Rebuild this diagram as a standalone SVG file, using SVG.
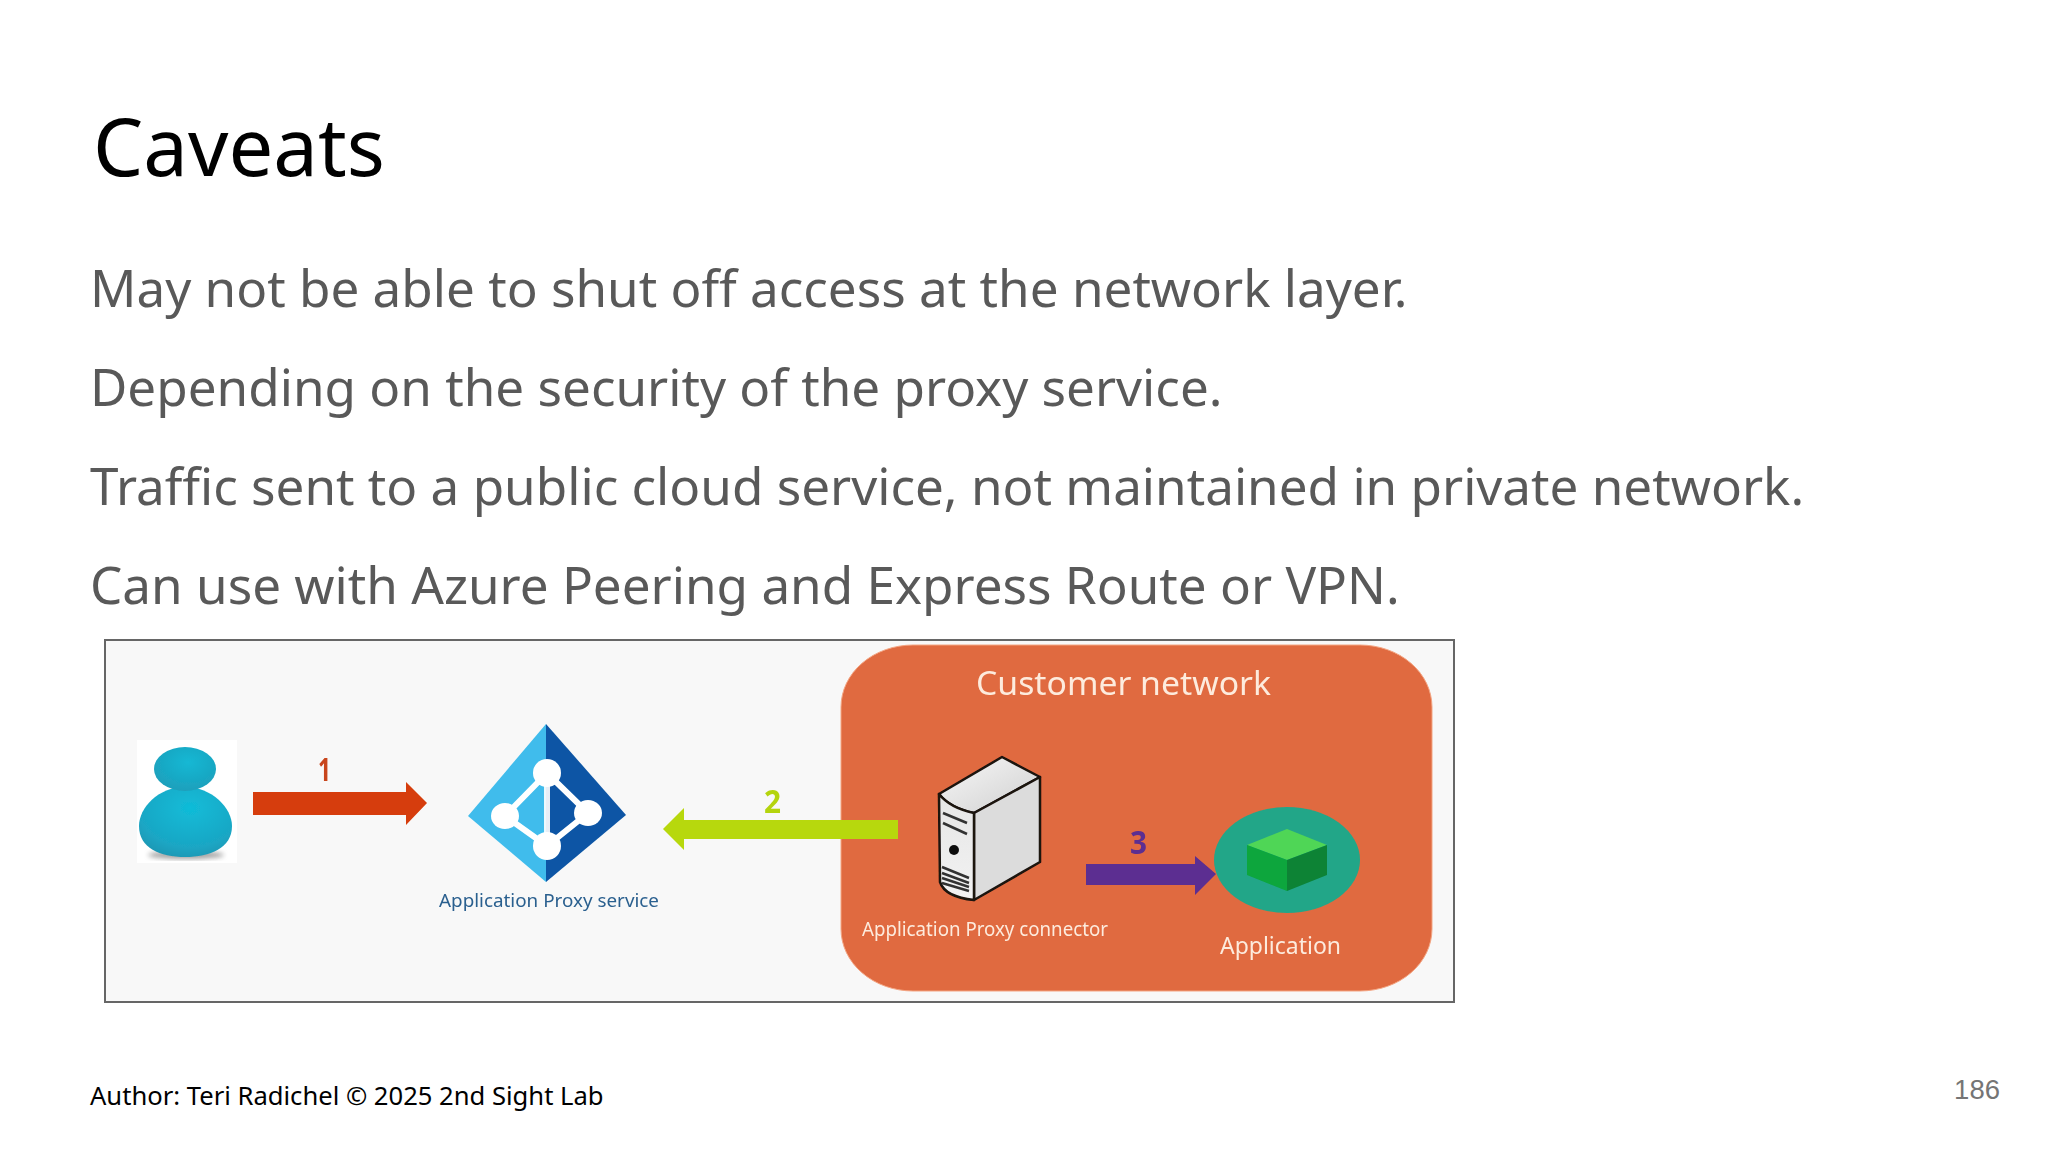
<svg xmlns="http://www.w3.org/2000/svg" width="2048" height="1152" viewBox="0 0 2048 1152">
<style>
text{font-family:"Noto Sans","Open Sans",sans-serif}
.body{font-size:51.2px;fill:#595959}
.inner{fill:#fdebdd}
.num{font-weight:700;font-size:33px}
.srv{stroke:#1a1210;stroke-width:2.5;stroke-linejoin:round}
.soft{filter:url(#soft)}
</style>
<defs>
<filter id="soft" x="-5%" y="-5%" width="110%" height="110%"><feGaussianBlur stdDeviation="0.7"/></filter>
<filter id="softer" x="-20%" y="-20%" width="140%" height="140%"><feGaussianBlur stdDeviation="2.5"/></filter>
<radialGradient id="p" cx=".55" cy=".3" r=".8"><stop offset="0" stop-color="#10bcd8"/><stop offset=".7" stop-color="#1aa6c4"/><stop offset="1" stop-color="#1f92ae"/></radialGradient>
<radialGradient id="h" cx=".55" cy=".35" r=".75"><stop offset="0" stop-color="#12b8d4"/><stop offset="1" stop-color="#1e9cb8"/></radialGradient>
<linearGradient id="t" x1="0" y1="0" x2="1" y2="1"><stop offset="0" stop-color="#f8f8f8"/><stop offset="1" stop-color="#cfcfcf"/></linearGradient>
<linearGradient id="f" x1="0" y1="0" x2="0" y2="1"><stop offset="0" stop-color="#e6e6e6"/><stop offset="1" stop-color="#f2f2f2"/></linearGradient>
</defs>
<rect width="2048" height="1152" fill="#fff"/>
<text id="title" x="93" y="175.5" font-size="79.6" fill="#000">Caveats</text>
<g id="bullets">
<text class="body" x="90" y="306.5">May not be able to shut off access at the network layer.</text>
<text class="body" x="90" y="405.5">Depending on the security of the proxy service.</text>
<text class="body" x="90" y="504.5">Traffic sent to a public cloud service, not maintained in private network.</text>
<text class="body" x="90" y="603.5">Can use with Azure Peering and Express Route or VPN.</text>
</g>
<rect id="frame" x="105" y="640" width="1349" height="362" fill="#f8f8f8" stroke="#666" stroke-width="2"/>
<g id="customer-network" class="soft">
<rect x="841" y="645" width="591" height="346" rx="72" ry="62" fill="#e06a3f" stroke="#f3a583" stroke-width="1"/>
<text class="inner" x="976" y="694.5" font-size="33" textLength="295" lengthAdjust="spacingAndGlyphs">Customer network</text>
</g>
<g id="user">
<rect x="137" y="740" width="100" height="123" fill="#fff" class="soft"/>
<ellipse cx="186" cy="855" rx="38" ry="4" fill="#777" opacity=".7" filter="url(#softer)"/>
<g class="soft">
<path d="M185 787C158 787 139 808 139 826C139 848 160 857 185 857C210 857 232 848 232 826C232 808 212 787 185 787Z" fill="url(#p)"/>
<ellipse cx="185" cy="769" rx="31" ry="22" fill="url(#h)"/>
</g>
</g>
<g id="proxy-service" class="soft">
<path d="M546 724L468 816L546 882Z" fill="#3fbcec"/>
<path d="M546 724L626 815L546 882Z" fill="#0a55a5"/>
<path d="M547 773L505 816L547 846L588 813Z" fill="none" stroke="#fff" stroke-width="6"/>
<path d="M547 773V846" fill="none" stroke="#fff" stroke-width="6" opacity=".9"/>
<ellipse cx="547" cy="773" rx="14" ry="14" fill="#fff"/>
<ellipse cx="505" cy="816" rx="14" ry="13" fill="#fff"/>
<ellipse cx="588" cy="813" rx="14" ry="13" fill="#fff"/>
<ellipse cx="547" cy="846" rx="14" ry="14" fill="#fff"/>
<text x="439" y="907" font-size="17.5" fill="#2b608f" textLength="220" lengthAdjust="spacingAndGlyphs">Application Proxy service</text>
</g>
<g id="connector" class="soft">
<path class="srv" d="M939 794L1002 757L1040 777L974 813Q950 808 939 794Z" fill="url(#t)"/>
<path class="srv" d="M974 813L1040 777V862L974 900Z" fill="#dcdcdc"/>
<path class="srv" d="M939 794Q950 808 974 813V900Q945 897 940 882Z" fill="url(#f)"/>
<path d="M943 813L967 823M943 823L967 834M942 867L969 878M942 873L969 883M942 878L969 887M942 883L969 891" stroke="#333" stroke-width="2.5" fill="none"/>
<ellipse cx="954" cy="850" rx="5" ry="5" fill="#111"/>
<text class="inner" x="862" y="936" font-size="19.5" textLength="246" lengthAdjust="spacingAndGlyphs">Application Proxy connector</text>
</g>
<g id="application" class="soft">
<ellipse cx="1287" cy="860" rx="73" ry="53" fill="#23a688"/>
<path d="M1287 829L1327 845L1287 860L1247 845Z" fill="#4fd656"/>
<path d="M1247 845L1287 860V891L1247 875Z" fill="#0ca63c"/>
<path d="M1327 845L1287 860V891L1327 875Z" fill="#0a8336"/>
<text class="inner" x="1220" y="954" font-size="24" textLength="121" lengthAdjust="spacingAndGlyphs">Application</text>
</g>
<g id="connectors" class="soft">
<path d="M253 792H406V782L427 803L406 825V815H253Z" fill="#d63c08"/>
<path d="M663 829L684 808V820H898V839H684V850Z" fill="#b7d80c"/>
<path d="M1086 864H1195V856L1216 874L1195 895V885H1086Z" fill="#5b2d91"/>
<text class="num" x="318" y="781" fill="#c8441c" textLength="13" lengthAdjust="spacingAndGlyphs">1</text>
<text class="num" x="764" y="813" fill="#b4d40e" textLength="17" lengthAdjust="spacingAndGlyphs">2</text>
<text class="num" x="1130" y="854" fill="#5b2d91" textLength="17" lengthAdjust="spacingAndGlyphs">3</text>
</g>
<text id="footer" x="90" y="1104.5" font-size="25.6" fill="#000">Author: Teri Radichel © 2025 2nd Sight Lab</text>
<text id="page" x="2000" y="1099" font-size="27.5" fill="#757575" text-anchor="end" style="font-family:'Liberation Sans',Arial,sans-serif">186</text>
</svg>
